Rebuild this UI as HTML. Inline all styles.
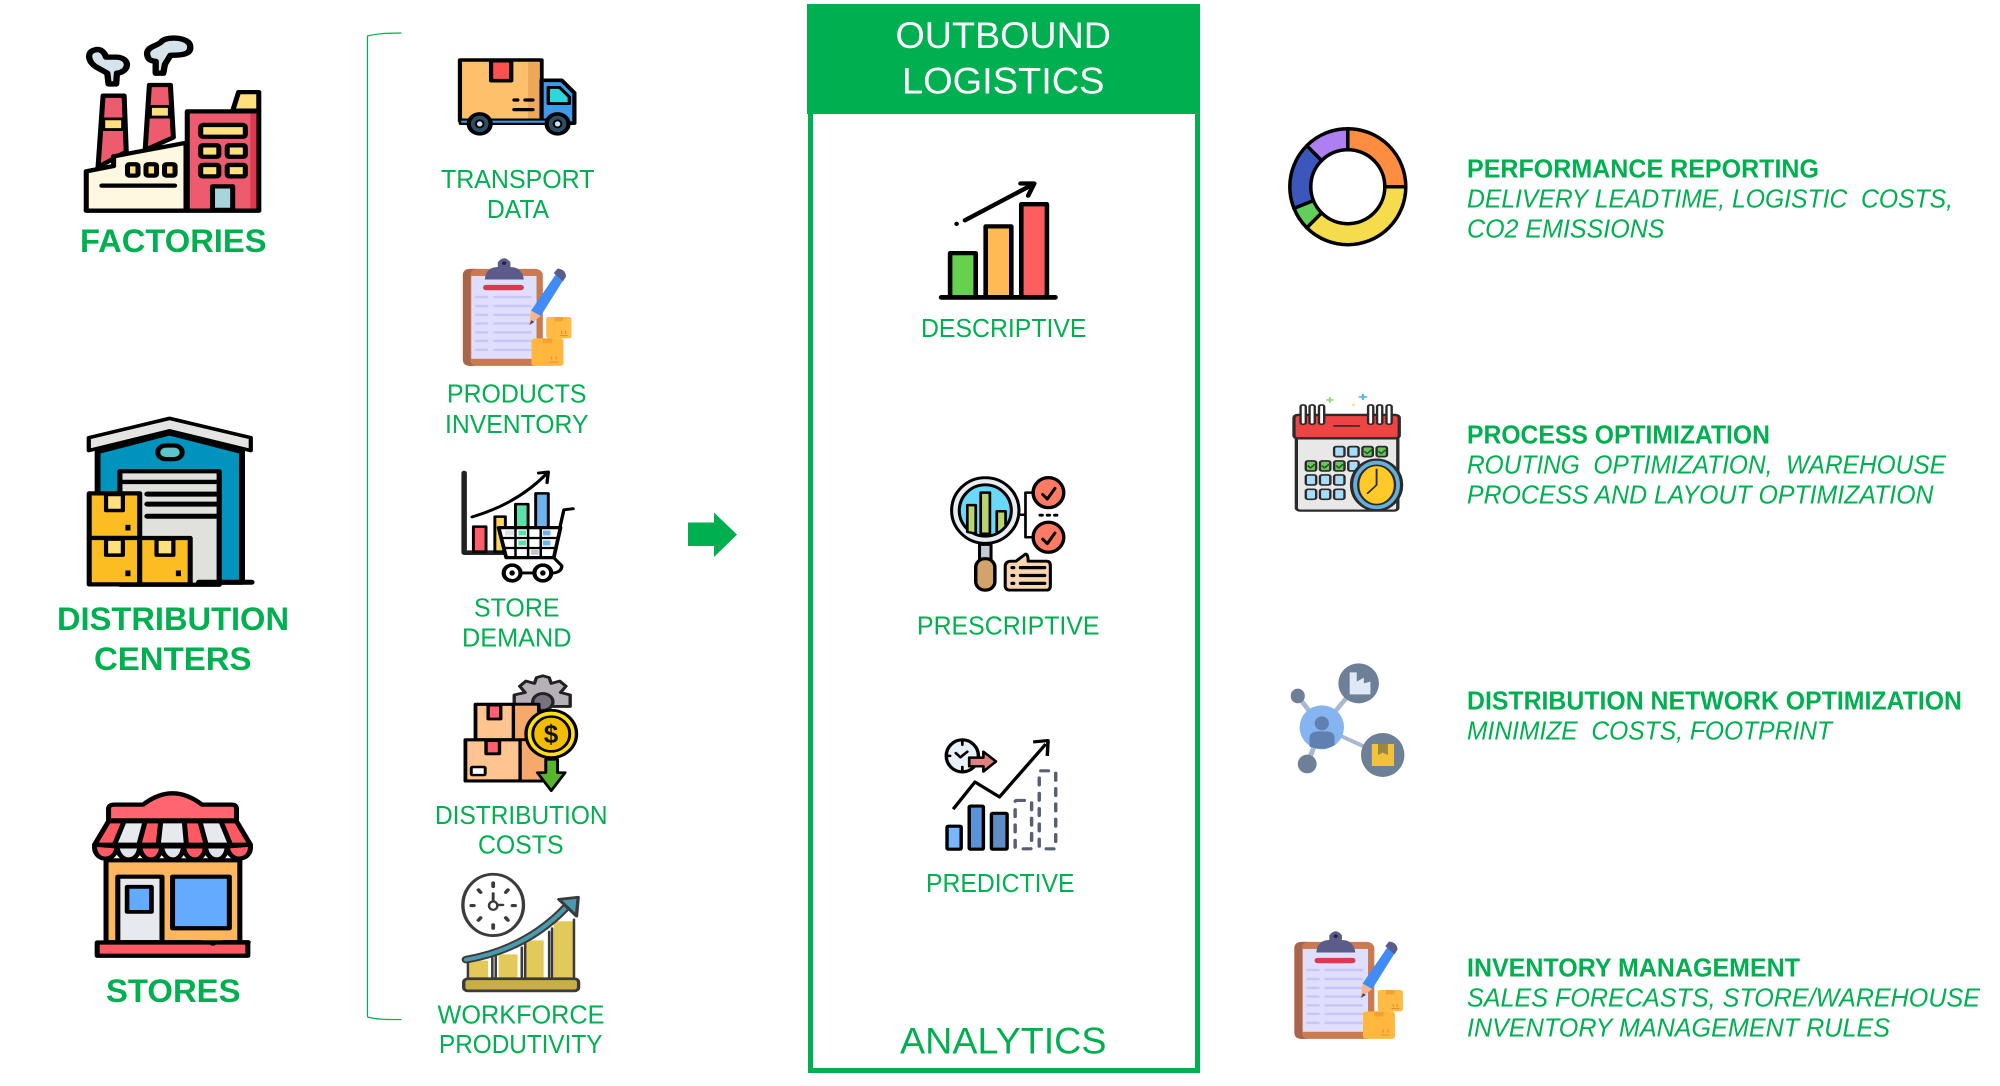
<!DOCTYPE html>
<html lang="en">
<head>
<meta charset="utf-8">
<title>Outbound Logistics Analytics</title>
<style>
html,body{margin:0;padding:0;background:#fff;width:2000px;height:1086px;overflow:hidden}
svg{display:block}
text{font-family:"Liberation Sans",Arial,sans-serif;fill:#00b050;white-space:pre}
.b{font-weight:700;font-size:32px}
.s{font-size:25.5px}
.h{font-size:37.3px}
.rb{font-weight:700;font-size:25.5px}
.ri{font-style:italic;font-size:25.5px}
</style>
</head>
<body>
<svg width="2000" height="1086" viewBox="0 0 2000 1086" xmlns="http://www.w3.org/2000/svg" stroke-linejoin="round" stroke-linecap="round">
<rect width="2000" height="1086" fill="#fff"/>

<!-- bracket -->
<path d="M401,33 Q378,33 367.5,36 L367.5,1017 Q378,1020 401,1019.5" fill="none" stroke="#00b050" stroke-width="1.2"/>

<!-- main box -->
<rect x="810.5" y="100" width="387" height="970.5" fill="none" stroke="#00b050" stroke-width="5" stroke-linejoin="miter"/>
<rect x="807" y="4" width="393" height="110" fill="#00b050"/>
<polygon points="688,522.5 714,522.5 714,512.5 737,534.6 714,557 714,546 688,546" fill="#00b050"/>

<!-- Left / column icons -->
<g transform="scale(.4208,.357)" stroke="#000" stroke-width="12">
  <!-- factory -->
  <path d="M225,140 C205,145 208,175 232,190 L255,205 L258,235 L276,235 L278,205 C310,200 310,160 275,160 L252,160 C248,145 238,135 225,140Z" fill="#d5e3ea" stroke-width="15"/>
  <path d="M350,155 C345,130 375,130 385,115 C400,100 452,105 452,130 C455,155 425,155 405,155 L392,180 L388,205 L370,205 L370,172 C355,170 352,165 350,155Z" fill="#d5e3ea" stroke-width="15"/>
  <polygon points="245,268 295,268 300,425 233,468" fill="#ee5b6e"/>
  <rect x="246" y="333" width="46" height="30" fill="#ffe07d" stroke-width="8"/>
  <polygon points="355,238 405,238 412,385 345,420" fill="#ee5b6e"/>
  <rect x="357" y="298" width="46" height="30" fill="#ffe07d" stroke-width="8"/>
  <polygon points="553,310 567,258 615,258 615,310" fill="#ffe07d"/>
  <rect x="445" y="312" width="170" height="278" fill="#ee5b6e"/>
  <rect x="595" y="318" width="14" height="266" fill="#dc3a50" stroke="none"/>
  <polygon points="205,480 270,465 270,438 442,400 442,590 205,590" fill="#fff8e1"/>
  <rect x="477" y="350" width="106" height="33" rx="6" fill="#ffe07d"/>
  <rect x="477" y="407" width="43" height="32" rx="5" fill="#ffe07d"/>
  <rect x="540" y="407" width="43" height="32" rx="5" fill="#ffe07d"/>
  <rect x="477" y="462" width="43" height="32" rx="5" fill="#ffe07d"/>
  <rect x="540" y="462" width="43" height="32" rx="5" fill="#ffe07d"/>
  <rect x="505" y="522" width="48" height="66" fill="#a8d5dc"/>
  <rect x="303" y="460" width="25" height="32" rx="5" fill="#ffe07d"/>
  <rect x="347" y="460" width="25" height="32" rx="5" fill="#ffe07d"/>
  <rect x="391" y="460" width="25" height="32" rx="5" fill="#ffe07d"/>
  <line x1="242" y1="520" x2="415" y2="520"/>
  <line x1="205" y1="590" x2="615" y2="590"/>

  <!-- truck -->
  <rect x="1093" y="168" width="194" height="170" fill="#ffc06b" stroke-width="10"/>
  <rect x="1255" y="174" width="28" height="158" fill="#eea85a" stroke="none"/>
  <rect x="1167" y="170" width="48" height="56" fill="#ff4f4f" stroke-width="10"/>
  <polygon points="1287,225 1335,225 1365,260 1365,345 1287,345" fill="#3d9bea" stroke-width="10"/>
  <polygon points="1303,245 1330,245 1353,272 1353,290 1303,290" fill="#2fd6dc" stroke-width="8"/>
  <rect x="1093" y="335" width="220" height="12" fill="#3d9bea" stroke-width="6"/>
  <ellipse cx="1140" cy="347" rx="26" ry="28" fill="#2c4f66" stroke-width="10"/>
  <ellipse cx="1140" cy="347" rx="9" ry="10" fill="#cfe3ee" stroke-width="5"/>
  <ellipse cx="1325" cy="347" rx="26" ry="28" fill="#2c4f66" stroke-width="10"/>
  <ellipse cx="1325" cy="347" rx="9" ry="10" fill="#cfe3ee" stroke-width="5"/>
  <path d="M1222,280h8M1248,280h18M1222,307h44" fill="none" stroke-width="9"/>

  <!-- cart chart -->
  <path d="M1103,1325 L1103,1548 L1200,1548" fill="none" stroke="#222" stroke-width="13"/>
  <rect x="1125" y="1475" width="30" height="70" fill="#ff5e6a" stroke-width="7"/>
  <rect x="1176" y="1447" width="25" height="98" fill="#ffd75e" stroke-width="7"/>
  <rect x="1225" y="1412" width="30" height="70" fill="#5ce0a8" stroke-width="7"/>
  <rect x="1273" y="1382" width="30" height="100" fill="#6cb4f0" stroke-width="7"/>
  <path d="M1122,1448 Q1230,1410 1298,1328" fill="none" stroke-width="8"/>
  <path d="M1280,1325 L1303,1322 L1300,1352" fill="none" stroke-width="8"/>
  <polygon points="1185,1478 1332,1478 1316,1562 1203,1562" fill="#fff" stroke-width="9"/>
  <rect x="1200" y="1486" width="25" height="14" fill="#e0e0e8" stroke="none"/>
  <rect x="1232" y="1486" width="18" height="14" fill="#5ce0a8" stroke="none"/>
  <rect x="1290" y="1486" width="18" height="14" fill="#6cb4f0" stroke="none"/>
  <rect x="1232" y="1514" width="18" height="14" fill="#5ce0a8" stroke="none"/>
  <rect x="1262" y="1540" width="18" height="14" fill="#c8c0d0" stroke="none"/>
  <rect x="1290" y="1514" width="18" height="14" fill="#6cb4f0" stroke="none"/>
  <path d="M1195,1507H1325M1200,1535H1320M1225,1480V1560M1255,1480V1560M1285,1480V1560" stroke-width="6" fill="none"/>
  <path d="M1330,1480 L1340,1428 L1362,1425 M1316,1562 L1335,1585 Q1335,1602 1315,1605 L1215,1605" fill="none" stroke-width="8"/>
  <ellipse cx="1217" cy="1605" rx="20" ry="22" fill="#fff" stroke-width="10"/>
  <ellipse cx="1217" cy="1605" rx="5" ry="6" fill="#000" stroke-width="3"/>
  <ellipse cx="1290" cy="1605" rx="20" ry="22" fill="#fff" stroke-width="10"/>
  <ellipse cx="1290" cy="1605" rx="5" ry="6" fill="#000" stroke-width="3"/>

  <!-- warehouse -->
  <polygon points="232,1265 403,1213 575,1265 575,1631 232,1631" fill="#0093bd" stroke-width="14"/>
  <polygon points="211,1226 403,1172 596,1226 596,1262 403,1207 211,1262" fill="#e4e4e2" stroke-width="10"/>
  <rect x="375" y="1248" width="58" height="38" rx="19" fill="#5fc4c8"/>
  <rect x="285" y="1320" width="236" height="318" fill="#e0e0dd" stroke-width="12"/>
  <path d="M350,1384H520M350,1412H520M350,1446H520" stroke-width="14" fill="none"/>
  <path d="M285,1350H520" stroke-width="12" fill="none"/>
  <rect x="520" y="1310" width="55" height="327" fill="#0093bd" stroke="none"/>
  <line x1="521" y1="1320" x2="521" y2="1637" stroke-width="12"/>
  <line x1="575" y1="1265" x2="575" y2="1631" stroke-width="14"/>
  <rect x="212" y="1382" width="120" height="125" fill="#fbbd22"/>
  <rect x="212" y="1507" width="120" height="130" fill="#fbbd22"/>
  <rect x="332" y="1507" width="120" height="130" fill="#fbbd22"/>
  <rect x="252" y="1385" width="40" height="45" fill="#ffe07d" stroke-width="10"/>
  <rect x="252" y="1510" width="40" height="45" fill="#ffe07d" stroke-width="10"/>
  <rect x="372" y="1510" width="40" height="45" fill="#ffe07d" stroke-width="10"/>
  <rect x="298" y="1470" width="12" height="16" fill="#000" stroke="none"/>
  <rect x="298" y="1598" width="12" height="16" fill="#000" stroke="none"/>
  <rect x="418" y="1598" width="12" height="16" fill="#000" stroke="none"/>
  <line x1="473" y1="1631" x2="598" y2="1631" stroke-width="14"/>
</g>

<!-- clipboard -->
<g id="clip">
  <g transform="scale(.4208,.357)">
    <rect x="1100" y="753" width="190" height="272" rx="18" fill="#c97a50"/>
    <path d="M1118,753 Q1100,753 1100,771 V1007 Q1100,1025 1118,1025 H1135 Q1118,1025 1118,1007 V771 Q1118,753 1135,753Z" fill="#a8654a"/>
    <rect x="1120" y="773" width="155" height="232" fill="#e0deff"/>
    <path d="M1132,832h25M1175,832h85M1132,857h25M1175,857h85M1132,882h25M1175,882h85M1132,906h25M1175,906h85M1132,931h25M1175,931h85M1132,955h25M1175,955h85M1132,980h25M1175,980h85" stroke="#c9c6f5" stroke-width="7" fill="none"/>
    <rect x="1148" y="798" width="97" height="15" rx="7" fill="#e0374f"/>
    <path d="M1152,783 Q1155,748 1183,748 V735 Q1198,712 1213,735 V748 Q1240,748 1245,783Z" fill="#5c5c8a"/>
    <circle cx="1198" cy="737" r="5" fill="#222244"/>
    <polygon points="1262,870 1320,770 1340,782 1285,885" fill="#3f8cf7"/>
    <polygon points="1262,870 1285,885 1258,910" fill="#f5b58e"/>
    <polygon points="1263,897 1270,902 1258,910" fill="#444466"/>
    <path d="M1316,765 L1325,752 Q1345,755 1345,775 L1338,788Z" fill="#5c5c8a"/>
    <rect x="1298" y="888" width="60" height="60" rx="6" fill="#ffbb44"/>
    <rect x="1318" y="888" width="20" height="12" fill="#f5a030"/>
    <rect x="1263" y="948" width="76" height="77" rx="8" fill="#ffb83d"/>
    <rect x="1290" y="948" width="22" height="14" fill="#f5a030"/>
    <path d="M1335,928v6M1344,928v6M1332,940h16M1311,1000v6M1322,1000v6M1306,1014h20" stroke="#e09030" stroke-width="3" fill="none"/>
  </g>
</g>
<use href="#clip" transform="translate(831.5,673)"/>

<!-- second row icons -->
<g transform="translate(0,540) scale(.4208,.3482)" stroke="#000" stroke-width="12">
  <!-- store -->
  <rect x="252" y="920" width="318" height="236" fill="#fdb55e"/>
  <rect x="280" y="967" width="105" height="188" fill="#e6e9ee"/>
  <rect x="302" y="996" width="58" height="72" fill="#64aaff" stroke-width="11"/>
  <rect x="410" y="967" width="135" height="148" fill="#64aaff"/>
  <rect x="231" y="1156" width="358" height="38" fill="#ff5a64"/>
  <path d="M260,1155H478M530,1155H590" fill="none"/>
  <path d="M505,1158h2" fill="none" stroke-width="14"/>
  <path d="M258,805 V772 Q258,760 272,760 H340 Q410,695 480,760 H550 Q562,760 562,772 V805Z" fill="#ff6670"/>
  <polygon points="258,808 562,808 595,875 225,875" fill="#e6e9ee"/>
  <polygon points="258,808 295,808 272,875 225,875" fill="#ff5a64"/>
  <polygon points="345,808 382,808 376,875 330,875" fill="#ff5a64"/>
  <polygon points="438,808 475,808 490,875 443,875" fill="#ff5a64"/>
  <polygon points="525,808 562,808 595,875 548,875" fill="#ff5a64"/>
  <path d="M295,808L272,875M345,808L330,875M382,808L376,875M438,808L443,875M475,808L490,875M525,808L548,875" fill="none" stroke-width="9"/>
  <path d="M225,875 C220,925 275,930 278,880Z" fill="#ff5a64"/>
  <path d="M278,880 C282,930 330,930 332,880Z" fill="#e0e4ea"/>
  <path d="M332,880 C336,930 382,930 384,880Z" fill="#ff5a64"/>
  <path d="M384,880 C388,930 434,930 436,880Z" fill="#e0e4ea"/>
  <path d="M436,880 C440,930 486,930 488,880Z" fill="#ff5a64"/>
  <path d="M488,880 C492,930 538,930 540,880Z" fill="#e0e4ea"/>
  <path d="M540,880 C544,930 600,925 595,875Z" fill="#ff5a64"/>

  <!-- distribution costs -->
  <path d="M1290,390 L1305,395 L1310,412 L1330,405 L1345,420 L1332,438 L1355,445 L1355,478 L1222,478 L1222,445 L1248,438 L1235,420 L1250,405 L1270,412 L1275,395Z" fill="#b8b0b8" stroke="#222" stroke-width="8"/>
  <ellipse cx="1290" cy="465" rx="24" ry="24" fill="#7a7080" stroke="#222" stroke-width="8"/>
  <rect x="1130" y="472" width="150" height="102" fill="#ffc48f" stroke-width="9"/>
  <rect x="1220" y="476" width="56" height="96" fill="#f5a96b" stroke="none"/>
  <line x1="1220" y1="472" x2="1220" y2="574" stroke-width="8"/>
  <rect x="1160" y="474" width="30" height="40" fill="#ff5f6e" stroke-width="8"/>
  <rect x="1106" y="574" width="196" height="118" fill="#ffc48f" stroke-width="9"/>
  <rect x="1240" y="578" width="56" height="110" fill="#f5a96b" stroke="none"/>
  <line x1="1236" y1="574" x2="1236" y2="692" stroke-width="8"/>
  <rect x="1155" y="576" width="32" height="38" fill="#ff5f6e" stroke-width="8"/>
  <rect x="1120" y="652" width="33" height="23" rx="3" fill="#fff" stroke-width="7"/>
  <polygon points="1297,630 1325,630 1325,668 1343,668 1310,720 1277,668 1297,668" fill="#58b428" stroke-width="7"/>
  <ellipse cx="1310" cy="557" rx="60" ry="68" fill="#ffde17" stroke-width="8"/>
  <ellipse cx="1310" cy="557" rx="44" ry="50" fill="#f2bc00" stroke-width="7"/>

  <!-- workforce -->
  <ellipse cx="1172" cy="1048" rx="72" ry="88" fill="#fff" stroke="#3b3b3b" stroke-width="8"/>
  <path d="M1172,985v10M1172,1105v10M1120,1050h6M1218,1050h6M1137,1005l5,7M1207,1005l-5,7M1137,1092l5,-7M1207,1092l-5,-7" stroke="#3b3b3b" stroke-width="9" fill="none"/>
  <path d="M1172,1015V1048H1195" fill="none" stroke="#3b3b3b" stroke-width="7"/>
  <ellipse cx="1172" cy="1050" rx="10" ry="12" fill="#fff" stroke="#3b3b3b" stroke-width="6"/>
  <rect x="1115" y="1208" width="45" height="50" fill="#e2c95a" stroke="none"/>
  <rect x="1185" y="1190" width="45" height="68" fill="#e2c95a" stroke="none"/>
  <rect x="1250" y="1150" width="42" height="108" fill="#e2c95a" stroke="none"/>
  <rect x="1316" y="1095" width="46" height="163" fill="#e2c95a" stroke="none"/>
  <path d="M1112,1210V1260M1170,1200V1260M1178,1195V1260M1240,1170V1260M1248,1160V1260M1305,1125V1260M1312,1115V1260M1364,1090V1260" stroke="#3b3b3b" stroke-width="6" fill="none"/>
  <rect x="1102" y="1260" width="273" height="35" rx="10" fill="#c9ae48" stroke="#3b3b3b" stroke-width="8"/>
  <path d="M1108,1205 Q1250,1175 1345,1055" fill="none" stroke="#3b3b3b" stroke-width="22"/>
  <path d="M1108,1205 Q1250,1175 1345,1055" fill="none" stroke="#4a9ab0" stroke-width="11"/>
  <polygon points="1328,1032 1374,1026 1370,1080" fill="#4a9ab0" stroke="#3b3b3b" stroke-width="8"/>
</g>
<text x="551" y="743" font-size="26" font-weight="700" text-anchor="middle" style="fill:#111">$</text>

<!-- analytics icons -->
<g transform="translate(660,0) scale(.3827,.357)" stroke="#000" stroke-width="12">
  <rect x="758" y="709" width="67" height="124" fill="#66d14f"/>
  <rect x="851" y="634" width="67" height="199" fill="#ffba55"/>
  <rect x="944" y="572" width="67" height="261" fill="#ff5e5e"/>
  <line x1="735" y1="833" x2="1033" y2="833" stroke-width="13"/>
  <line x1="797" y1="617" x2="972" y2="518" stroke-width="12"/>
  <path d="M942,514 H978 L962,548" fill="none" stroke-width="12"/>
  <circle cx="775" cy="627" r="3" stroke-width="6"/>

  <!-- prescriptive -->
  <path d="M940,1442 H955 V1380 H975 M955,1442 V1505 H975" fill="none" stroke-width="7"/>
  <rect x="835" y="1525" width="30" height="42" fill="#c0cdd8" stroke-width="8"/>
  <rect x="825" y="1565" width="50" height="88" rx="24" fill="#d4a36c" stroke-width="9"/>
  <ellipse cx="850" cy="1430" rx="88" ry="92" fill="#e8edf2" stroke-width="8"/>
  <ellipse cx="850" cy="1430" rx="68" ry="72" fill="#6ad8f8" stroke-width="8"/>
  <path d="M803,1490 V1415 H825 V1495Z M838,1495 V1380 H862 V1495Z M880,1490 V1432 H903 V1470" fill="#b8d46e" stroke-width="7"/>
  <ellipse cx="1015" cy="1380" rx="40" ry="42" fill="#ff7a64" stroke-width="9"/>
  <ellipse cx="1015" cy="1505" rx="40" ry="42" fill="#ff7a64" stroke-width="9"/>
  <path d="M1000,1385 L1012,1398 L1032,1368 M1000,1510 L1012,1523 L1032,1493" fill="none" stroke-width="8"/>
  <path d="M993,1443h6M1012,1443h6M1031,1443h6" stroke-width="8" fill="none"/>
  <path d="M902,1588 Q902,1572 918,1572 H930 L955,1552 Q962,1552 962,1572 H1010 Q1020,1572 1020,1585 V1640 Q1020,1653 1010,1653 H915 Q902,1653 902,1640Z" fill="#f6d5b0" stroke-width="8"/>
  <path d="M942,1590H1005M942,1612H1005M942,1634H1005" fill="none" stroke-width="9"/>
  <path d="M920,1590h4M920,1612h4M920,1634h4" fill="none" stroke-width="9"/>
</g>
<g transform="translate(660,540) scale(.3827,.3482)" stroke="#000" stroke-width="9">
  <ellipse cx="790" cy="620" rx="42" ry="46" fill="#e8f0f8"/>
  <path d="M790,578v10M790,652v10M750,620h8M773,612l12,12l18,-16" fill="none" stroke-width="7"/>
  <polygon points="808,625 845,625 845,608 878,636 845,665 845,650 808,650" fill="#e08080" stroke-width="7"/>
  <rect x="750" y="822" width="37" height="66" rx="3" fill="#78b7ff"/>
  <rect x="808" y="764" width="37" height="124" rx="3" fill="#5b93d8"/>
  <rect x="866" y="785" width="41" height="103" rx="3" fill="#5f8dc5"/>
  <rect x="928" y="748" width="43" height="139" rx="4" fill="none" stroke="#566074" stroke-dasharray="20 24"/>
  <rect x="991" y="663" width="43" height="224" rx="4" fill="none" stroke="#566074" stroke-dasharray="20 24"/>
  <path d="M766,773 L823,695 L887,738 L1008,586" fill="none" stroke-linecap="butt"/>
  <path d="M975,580 L1014,576 L1012,620" fill="none" stroke-linecap="butt"/>
</g>

<!-- donut -->
<g transform="rotate(-90 1347.8 186.7)" fill="none" stroke-width="21" stroke-linecap="butt">
  <circle cx="1347.8" cy="186.7" r="47.5" stroke="#ff8d3f" pathLength="360" stroke-dasharray="90 270" stroke-dashoffset="0"/>
  <circle cx="1347.8" cy="186.7" r="47.5" stroke="#f5dc4c" pathLength="360" stroke-dasharray="135 225" stroke-dashoffset="-90"/>
  <circle cx="1347.8" cy="186.7" r="47.5" stroke="#62cf5c" pathLength="360" stroke-dasharray="23 337" stroke-dashoffset="-225"/>
  <circle cx="1347.8" cy="186.7" r="47.5" stroke="#3b57bb" pathLength="360" stroke-dasharray="67 293" stroke-dashoffset="-248"/>
  <circle cx="1347.8" cy="186.7" r="47.5" stroke="#ae7ff0" pathLength="360" stroke-dasharray="45 315" stroke-dashoffset="-315"/>
</g>
<g fill="none" stroke="#000" stroke-width="3.5">
  <circle cx="1347.8" cy="186.7" r="58"/>
  <circle cx="1347.8" cy="186.7" r="37"/>
  <line x1="1347.8" y1="149.7" x2="1347.8" y2="128.7"/>
  <line x1="1347.8" y1="149.7" x2="1347.8" y2="128.7" transform="rotate(90 1347.8 186.7)"/>
  <line x1="1347.8" y1="149.7" x2="1347.8" y2="128.7" transform="rotate(225 1347.8 186.7)"/>
  <line x1="1347.8" y1="149.7" x2="1347.8" y2="128.7" transform="rotate(248 1347.8 186.7)"/>
  <line x1="1347.8" y1="149.7" x2="1347.8" y2="128.7" transform="rotate(315 1347.8 186.7)"/>
</g>

<!-- calendar -->
<g transform="translate(1260,100) scale(.472,.3333)" stroke="#2b2b2b" stroke-width="7">
  <rect x="77" y="1010" width="215" height="222" rx="8" fill="#e8e8e8"/>
  <rect x="72" y="945" width="223" height="70" rx="8" fill="#ee4444"/>
  <line x1="157" y1="978" x2="210" y2="978" stroke-width="5"/>
  <g fill="#fff" stroke-width="5">
    <rect x="86" y="915" width="11" height="58" rx="5"/><rect x="105" y="915" width="11" height="58" rx="5"/><rect x="125" y="915" width="11" height="58" rx="5"/>
    <rect x="229" y="915" width="11" height="58" rx="5"/><rect x="248" y="915" width="11" height="58" rx="5"/><rect x="268" y="915" width="11" height="58" rx="5"/>
  </g>
  <g fill="#a8dcf8" stroke-width="5">
    <rect x="157" y="1040" width="22" height="30" rx="5"/><rect x="187" y="1040" width="22" height="30" rx="5"/>
    <rect x="97" y="1125" width="22" height="30" rx="5"/><rect x="127" y="1125" width="22" height="30" rx="5"/><rect x="157" y="1125" width="22" height="30" rx="5"/>
    <rect x="97" y="1168" width="22" height="30" rx="5"/><rect x="127" y="1168" width="22" height="30" rx="5"/><rect x="157" y="1168" width="22" height="30" rx="5"/>
    <rect x="187" y="1083" width="22" height="30" rx="5"/>
  </g>
  <g fill="#6cc45c" stroke-width="5">
    <rect x="217" y="1040" width="22" height="30" rx="5"/><rect x="247" y="1040" width="22" height="30" rx="5"/>
    <rect x="97" y="1083" width="22" height="30" rx="5"/><rect x="127" y="1083" width="22" height="30" rx="5"/><rect x="157" y="1083" width="22" height="30" rx="5"/>
  </g>
  <path d="M222,1055l5,6l8,-10M252,1055l5,6l8,-10M102,1098l5,6l8,-10M132,1098l5,6l8,-10M162,1098l5,6l8,-10" fill="none" stroke="#1f5a1f" stroke-width="4"/>
  <ellipse cx="247" cy="1155" rx="53" ry="76" fill="#64b0dc"/>
  <ellipse cx="247" cy="1155" rx="39" ry="59" fill="#ffc928" stroke-width="5"/>
  <path d="M247,1108V1155L228,1180" fill="none" stroke-width="4"/>
  <path d="M218,884v14M211,891h14" stroke="#5ab4e0" stroke-width="5"/>
  <path d="M148,894v12M142,900h12" stroke="#8fdc7a" stroke-width="5"/>
  <circle cx="198" cy="915" r="2" stroke="#ffe48a" stroke-width="3"/>
</g>

<!-- network -->
<g transform="translate(1260,640) scale(.472,.3333)">
  <path d="M80,168 L131,262 L209,130 M131,262 L260,345 M131,262 L100,372" stroke="#aab8d0" stroke-width="11" fill="none"/>
  <ellipse cx="209" cy="130" rx="43" ry="60" fill="#6e8098"/>
  <polygon points="190,97 205,97 205,125 220,113 220,130 234,125 234,163 190,163" fill="#e0e8f4"/>
  <ellipse cx="260" cy="345" rx="46" ry="66" fill="#6e8098"/>
  <rect x="237" y="312" width="47" height="66" fill="#f3c23a"/>
  <polygon points="250,312 271,312 271,345 260,338 250,345" fill="#9a8840"/>
  <ellipse cx="80" cy="168" rx="15" ry="22" fill="#6e8098"/>
  <ellipse cx="100" cy="372" rx="20" ry="28" fill="#6e8098"/>
  <ellipse cx="131" cy="262" rx="47" ry="66" fill="#86b4f0"/>
  <ellipse cx="131" cy="250" rx="15" ry="21" fill="#5f80b0"/>
  <path d="M105,320 V293 Q105,274 125,274 H138 Q158,274 158,293 V315 Q135,335 105,320Z" fill="#5f80b0"/>
</g>

<!-- Text -->
<text class="b" x="80" y="252" textLength="186.5" lengthAdjust="spacingAndGlyphs">FACTORIES</text>
<text class="b" x="57" y="630" textLength="232" lengthAdjust="spacingAndGlyphs">DISTRIBUTION</text>
<text class="b" x="94" y="670" textLength="157.5" lengthAdjust="spacingAndGlyphs">CENTERS</text>
<text class="b" x="106" y="1002" textLength="134.5" lengthAdjust="spacingAndGlyphs">STORES</text>

<text class="s" x="441" y="188" textLength="153.5" lengthAdjust="spacingAndGlyphs">TRANSPORT</text>
<text class="s" x="487" y="218" textLength="62" lengthAdjust="spacingAndGlyphs">DATA</text>
<text class="s" x="447" y="402.5" textLength="139.5" lengthAdjust="spacingAndGlyphs">PRODUCTS</text>
<text class="s" x="445" y="433" textLength="143.5" lengthAdjust="spacingAndGlyphs">INVENTORY</text>
<text class="s" x="474" y="616.6" textLength="85.5" lengthAdjust="spacingAndGlyphs">STORE</text>
<text class="s" x="462" y="646.5" textLength="109.5" lengthAdjust="spacingAndGlyphs">DEMAND</text>
<text class="s" x="435" y="823.8" textLength="172.5" lengthAdjust="spacingAndGlyphs">DISTRIBUTION</text>
<text class="s" x="478" y="853.4" textLength="85.5" lengthAdjust="spacingAndGlyphs">COSTS</text>
<text class="s" x="437.5" y="1023.3" textLength="167" lengthAdjust="spacingAndGlyphs">WORKFORCE</text>
<text class="s" x="439" y="1053" textLength="163.5" lengthAdjust="spacingAndGlyphs">PRODUTIVITY</text>

<text class="h" x="895.5" y="48" textLength="215.5" lengthAdjust="spacingAndGlyphs" style="fill:#fff">OUTBOUND</text>
<text class="h" x="902" y="93.6" textLength="202.5" lengthAdjust="spacingAndGlyphs" style="fill:#fff">LOGISTICS</text>
<text class="h" x="900" y="1053.6" textLength="206.5" lengthAdjust="spacingAndGlyphs">ANALYTICS</text>

<text class="s" x="921" y="336.8" textLength="165.5" lengthAdjust="spacingAndGlyphs">DESCRIPTIVE</text>
<text class="s" x="917" y="634.7" textLength="182.5" lengthAdjust="spacingAndGlyphs">PRESCRIPTIVE</text>
<text class="s" x="926" y="892" textLength="148.5" lengthAdjust="spacingAndGlyphs">PREDICTIVE</text>

<text class="rb" x="1467" y="177.7" textLength="352" lengthAdjust="spacingAndGlyphs">PERFORMANCE REPORTING</text>
<text class="ri" x="1467" y="207.7" textLength="486" lengthAdjust="spacingAndGlyphs">DELIVERY LEADTIME, LOGISTIC  COSTS,</text>
<text class="ri" x="1467" y="237.7" textLength="197.5" lengthAdjust="spacingAndGlyphs">CO2 EMISSIONS</text>
<text class="rb" x="1467" y="443.3" textLength="303" lengthAdjust="spacingAndGlyphs">PROCESS OPTIMIZATION</text>
<text class="ri" x="1467" y="473.3" textLength="479" lengthAdjust="spacingAndGlyphs">ROUTING  OPTIMIZATION,  WAREHOUSE</text>
<text class="ri" x="1467" y="503.3" textLength="466.5" lengthAdjust="spacingAndGlyphs">PROCESS AND LAYOUT OPTIMIZATION</text>
<text class="rb" x="1467" y="709.3" textLength="495" lengthAdjust="spacingAndGlyphs">DISTRIBUTION NETWORK OPTIMIZATION</text>
<text class="ri" x="1467" y="739.3" textLength="365" lengthAdjust="spacingAndGlyphs">MINIMIZE  COSTS, FOOTPRINT</text>
<text class="rb" x="1467" y="976.7" textLength="333" lengthAdjust="spacingAndGlyphs">INVENTORY MANAGEMENT</text>
<text class="ri" x="1467" y="1006.7" textLength="513" lengthAdjust="spacingAndGlyphs">SALES FORECASTS, STORE/WAREHOUSE</text>
<text class="ri" x="1467" y="1036.7" textLength="423" lengthAdjust="spacingAndGlyphs">INVENTORY MANAGEMENT RULES</text>
</svg>
</body>
</html>
